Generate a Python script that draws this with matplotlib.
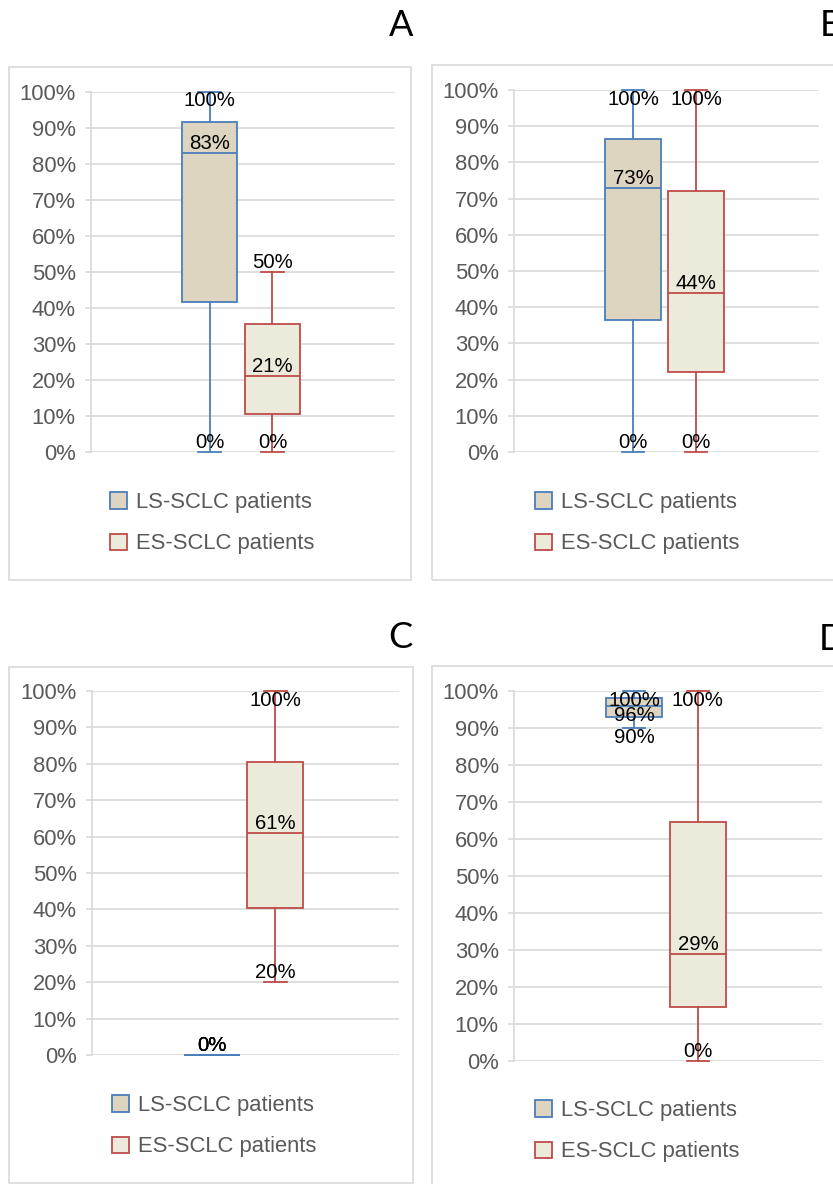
import matplotlib.pyplot as plt
from matplotlib.patches import Rectangle, Patch
from matplotlib.ticker import FuncFormatter

W, H = 833, 1184

panel_names = ['A', 'B', 'C', 'D']
series_names = ['LS-SCLC patients', 'ES-SCLC patients']

# min, Q1, median, Q3, max (%)
ls_A = [0, 41.5, 83, 91.5, 100]
es_A = [0, 10.5, 21, 35.5, 50]
ls_B = [0, 36.5, 73, 86.5, 100]
es_B = [0, 22, 44, 72, 100]
ls_C = [0, 0, 0, 0, 0]
es_C = [20, 40.5, 61, 80.5, 100]
ls_D = [90, 93, 96, 98, 100]
es_D = [0, 14.5, 29, 64.5, 100]

# data labels shown on each panel: (series, value)
labels_A = [(0, 100), (0, 83), (0, 0), (1, 50), (1, 21), (1, 0)]
labels_B = [(0, 100), (0, 73), (0, 0), (1, 100), (1, 44), (1, 0)]
labels_C = [(0, 0), (0, 0), (0, 0), (1, 100), (1, 61), (1, 20)]
labels_D = [(0, 100), (0, 96), (0, 90), (1, 100), (1, 29), (1, 0)]

stats = {'A': (ls_A, es_A), 'B': (ls_B, es_B), 'C': (ls_C, es_C), 'D': (ls_D, es_D)}
labels = {'A': labels_A, 'B': labels_B, 'C': labels_C, 'D': labels_D}

# label placement (True = below the value)
below = {'A': [1, 0, 0, 0, 0, 0], 'B': [1, 0, 0, 1, 0, 0],
         'C': [0, 0, 0, 1, 0, 0], 'D': [1, 1, 1, 1, 0, 0]}

# pixel layout
layout = {
    'A': dict(frame=(9, 67, 411, 580), ax=(91, 91.5, 395, 452), leg=(110, 501), letter=(401, 26)),
    'B': dict(frame=(432, 65, 850, 580), ax=(514, 90, 819, 452), leg=(535, 501), letter=(831, 26)),
    'C': dict(frame=(9, 667, 413, 1183), ax=(92, 691, 399, 1055), leg=(112, 1104), letter=(400, 638)),
    'D': dict(frame=(432, 666, 850, 1192), ax=(514, 691, 822, 1061), leg=(535, 1109), letter=(833, 640)),
}

edge_cols = ['#4a7ebb', '#be4b48']
fill_cols = ['#ddd5c0', '#ecebdb']
grid_col = '#d9d9d9'
positions = [0.39, 0.597]
box_w = 0.183

plt.rcParams['font.family'] = ['Liberation Sans', 'DejaVu Sans']

fig = plt.figure(figsize=(W / 100, H / 100), dpi=100)


def fx(x):
    return x / W


def fy(y):
    return 1 - y / H


for name in panel_names:
    lay = layout[name]
    x0, y0, x1, y1 = lay['frame']
    fig.patches.append(Rectangle((fx(x0), fy(y1)), fx(x1 - x0), (y1 - y0) / H,
                                 transform=fig.transFigure, facecolor='none',
                                 edgecolor=grid_col, linewidth=1.2, zorder=-1))

    ax0, ay0, ax1, ay1 = lay['ax']
    ax = fig.add_axes([fx(ax0), fy(ay1), fx(ax1 - ax0), (ay1 - ay0) / H])
    ax.set_facecolor('none')

    bstats = []
    for s in stats[name]:
        bstats.append(dict(whislo=s[0], q1=s[1], med=s[2], q3=s[3], whishi=s[4], fliers=[]))

    for i in range(2):
        res = ax.bxp([bstats[i]], positions=[positions[i]], widths=box_w, capwidths=box_w * 0.4,
                     patch_artist=True, showfliers=False,
                     boxprops=dict(facecolor=fill_cols[i], edgecolor=edge_cols[i], linewidth=1.3),
                     whiskerprops=dict(color=edge_cols[i], linewidth=1.3),
                     capprops=dict(color=edge_cols[i], linewidth=1.3),
                     medianprops=dict(color=edge_cols[i], linewidth=1.3))
        for k in res:
            for art in res[k]:
                art.set_clip_on(False)
                art.set_zorder(3)

    for (si, val), b in zip(labels[name], below[name]):
        ax.text(positions[si], val, f'{val:g}%', ha='center',
                va='top' if b else 'bottom', fontsize=14.7, color='black', zorder=5)

    ax.set_xlim(0, 1)
    ax.set_ylim(0, 100)
    ax.set_yticks(range(0, 101, 10))
    ax.yaxis.set_major_formatter(FuncFormatter(lambda v, p: f'{v:.0f}%'))
    ax.set_xticks([])
    ax.grid(axis='y', color=grid_col, linewidth=1.2)
    ax.set_axisbelow(True)
    for sp in ['top', 'right', 'bottom']:
        ax.spines[sp].set_visible(False)
    ax.spines['left'].set_color(grid_col)
    ax.spines['left'].set_linewidth(1.2)
    ax.tick_params(axis='y', length=4, width=1.2, color=grid_col, labelcolor='#595959',
                   labelsize=15.8, pad=7)

    handles = [Patch(facecolor=fill_cols[i], edgecolor=edge_cols[i], linewidth=1.3)
               for i in range(2)]
    lx, ly = lay['leg']
    ax.legend(handles, series_names, loc='upper left', bbox_to_anchor=(fx(lx), fy(ly - 9)),
              bbox_transform=fig.transFigure, frameon=False, fontsize=15.8, borderpad=0,
              borderaxespad=0, handlelength=0.78, handleheight=0.78, handletextpad=0.42,
              labelspacing=0.93, labelcolor='#595959')

    tx, ty = lay['letter']
    fig.text(fx(tx), fy(ty), name, ha='center', va='center', fontsize=26,
             family=['Lato', 'DejaVu Sans'], color='black')

fig.savefig('out.png', dpi=100)
